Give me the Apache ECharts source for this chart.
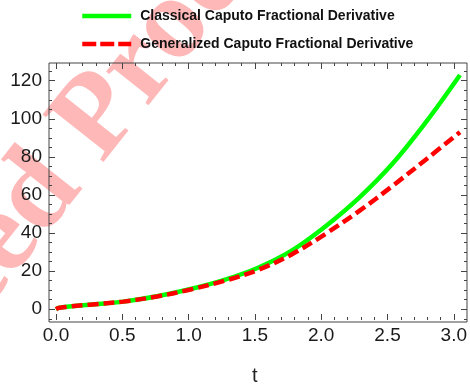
<!DOCTYPE html>
<html>
<head>
<meta charset="utf-8">
<script src="https://cdn.jsdelivr.net/npm/echarts@6/dist/echarts.min.js"></script>
<style>html,body{margin:0;padding:0;background:#fff;}#c{width:470px;height:391px;}</style>
</head>
<body>
<div id="c"></div>
<script>
// ---- data ----
const tValues = [0, 0.02, 0.05, 0.1, 0.25, 0.5, 0.75, 1.0, 1.25, 1.5, 1.75, 2.0, 2.25, 2.5, 2.75, 3.0];
const classical = [0, 0.7, 1.0, 1.4, 2.4, 4.0, 6.8, 10.6, 15.4, 21.8, 30.8, 43.5, 58.5, 76.5, 98.5, 123.0];
const generalized = [0, 0.7, 1.0, 1.4, 2.4, 4.0, 6.7, 10.4, 14.9, 20.6, 28.8, 39.5, 51.5, 64.8, 78.8, 93.0];
const seriesNames = ['Classical Caputo Fractional Derivative', 'Generalized Caputo Fractional Derivative'];
const xTicks = [0, 0.5, 1.0, 1.5, 2.0, 2.5, 3.0];
const yTicks = [0, 20, 40, 60, 80, 100, 120];
const xTitle = 't';

const chart = echarts.init(document.getElementById('c'), null, {renderer: 'canvas'});
const frame = '#444';
const labelColor = '#1a1a1a';
const font = '"Liberation Sans", Arial, sans-serif';

const xMin = -0.052, xMax = 3.052, yMin = -6.7, yMax = 129.3;
const G = {left: 49, right: 3, top: 63, bottom: 69};
const W = 470 - G.left - G.right, H = 391 - G.top - G.bottom;
const px = v => G.left + (v - xMin) / (xMax - xMin) * W;
const py = v => G.top + (yMax - v) / (yMax - yMin) * H;

const x0 = px(xTicks[0]), x1 = px(xTicks[xTicks.length - 1]);
const yM0 = py(-5), yM1 = py(125);
const yT0 = py(yTicks[0]), yT1 = py(yTicks[yTicks.length - 1]);

const tickCommon = {lineStyle: {color: frame, width: 1}};
const wmFont = 'bold 118px "Liberation Serif", serif';
const wmFill = 'rgba(255,0,0,0.28)';
const wmX = 124, wmY = 182, wmRot = 0.9;

const option = {
  backgroundColor: '#fff',
  animation: false,
  legend: {
    orient: 'vertical', left: 75, top: 4,
    itemWidth: 49, itemHeight: 14, itemGap: 14,
    itemStyle: {opacity: 0},
    textStyle: {fontFamily: font, fontWeight: 'bold', fontSize: 14, color: '#111', padding: [0, 0, 0, 4]},
    data: [
      {name: seriesNames[0], lineStyle: {width: 4.5}},
      {name: seriesNames[1], lineStyle: {width: 4.5, type: [14, 4]}}
    ]
  },
  graphic: [
    {type: 'text', z: -10, x: wmX, y: wmY, rotation: wmRot,
     style: {text: 'Proof', font: wmFont, fill: wmFill, textAlign: 'left', textVerticalAlign: 'bottom'}},
    {type: 'text', z: -10, x: wmX, y: wmY, rotation: wmRot,
     style: {text: 'Uncorrected ', font: wmFont, fill: wmFill, textAlign: 'right', textVerticalAlign: 'bottom'}}
  ],
  grid: [
    {left: G.left, right: G.right, top: G.top, bottom: G.bottom, show: true, borderColor: frame, borderWidth: 1, backgroundColor: 'transparent'},
    {left: x0, right: 470 - x1, top: G.top, bottom: G.bottom},
    {left: G.left, right: G.right, top: yM1, bottom: 391 - yM0},
    {left: G.left, right: G.right, top: yT1, bottom: 391 - yT0}
  ],
  xAxis: [
    {gridIndex: 0, type: 'value', min: xMin, max: xMax, show: false},
    {gridIndex: 1, type: 'value', position: 'bottom', min: xTicks[0], max: xTicks[xTicks.length - 1], interval: 0.5,
     axisLine: {show: false}, splitLine: {show: false},
     axisTick: Object.assign({inside: true, length: 6}, tickCommon),
     minorTick: {show: true, splitNumber: 5, length: 3, lineStyle: {color: frame, width: 1}},
     axisLabel: {margin: 6, fontFamily: font, fontSize: 19, color: labelColor, formatter: v => v.toFixed(1)},
     name: xTitle, nameLocation: 'middle', nameGap: 46,
     nameTextStyle: {fontFamily: font, fontSize: 20, color: '#222'}},
    {gridIndex: 1, type: 'value', position: 'top', min: xTicks[0], max: xTicks[xTicks.length - 1], interval: 0.5,
     axisLine: {show: false}, splitLine: {show: false}, axisLabel: {show: false},
     axisTick: Object.assign({inside: true, length: 6}, tickCommon),
     minorTick: {show: true, splitNumber: 5, length: 3, lineStyle: {color: frame, width: 1}}},
    {gridIndex: 2, type: 'value', show: false, min: 0, max: 1},
    {gridIndex: 3, type: 'value', show: false, min: 0, max: 1}
  ],
  yAxis: [
    {gridIndex: 0, type: 'value', min: yMin, max: yMax, show: false},
    {gridIndex: 1, type: 'value', show: false, min: 0, max: 1},
    {gridIndex: 2, type: 'value', position: 'left', min: -5, max: 125, interval: 5,
     axisLine: {show: false}, splitLine: {show: false}, axisLabel: {show: false},
     axisTick: Object.assign({inside: true, length: 3}, tickCommon)},
    {gridIndex: 2, type: 'value', position: 'right', min: -5, max: 125, interval: 5,
     axisLine: {show: false}, splitLine: {show: false}, axisLabel: {show: false},
     axisTick: Object.assign({inside: true, length: 3}, tickCommon)},
    {gridIndex: 3, type: 'value', position: 'left', min: yTicks[0], max: yTicks[yTicks.length - 1], interval: 20,
     axisLine: {show: false}, splitLine: {show: false},
     axisTick: Object.assign({inside: true, length: 6}, tickCommon),
     axisLabel: {margin: 7, fontFamily: font, fontSize: 19, color: labelColor}},
    {gridIndex: 3, type: 'value', position: 'right', min: yTicks[0], max: yTicks[yTicks.length - 1], interval: 20,
     axisLine: {show: false}, splitLine: {show: false}, axisLabel: {show: false},
     axisTick: Object.assign({inside: true, length: 6}, tickCommon)}
  ],
  series: [
    {name: seriesNames[0], type: 'line', xAxisIndex: 0, yAxisIndex: 0, symbol: 'none', smooth: 0.35,
     data: tValues.map((t, i) => [t, classical[i]]),
     lineStyle: {color: '#00ff00', width: 4.5}, itemStyle: {color: '#00ff00'}, z: 2},
    {name: seriesNames[1], type: 'line', xAxisIndex: 0, yAxisIndex: 0, symbol: 'none', smooth: 0.35,
     data: tValues.map((t, i) => [t, generalized[i]]),
     lineStyle: {color: '#ff0000', width: 4.5, type: [11, 5]}, itemStyle: {color: '#ff0000'}, z: 3}
  ]
};
chart.setOption(option);
</script>
</body>
</html>
